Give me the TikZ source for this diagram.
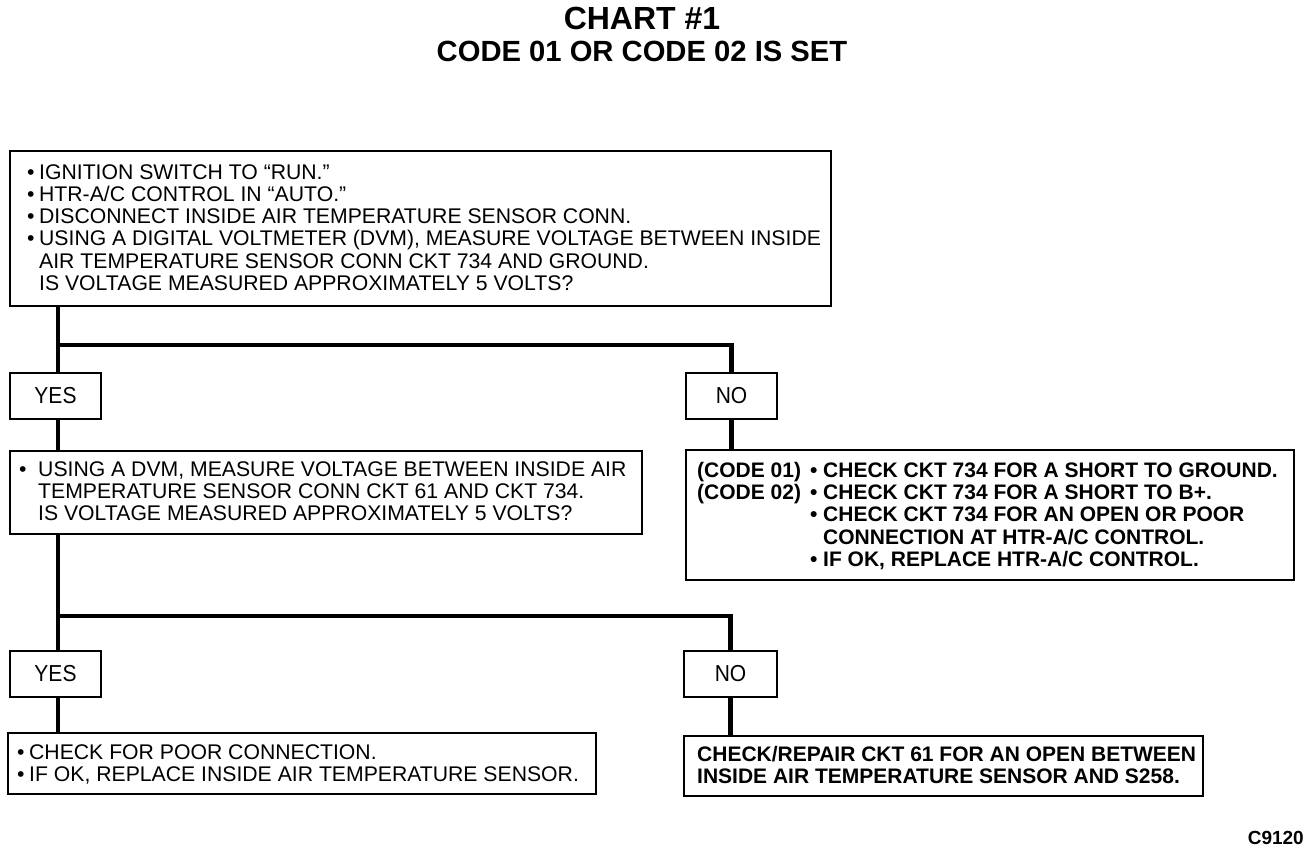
\documentclass[tikz,border=0pt]{standalone}
\usepackage{fontspec}
\setmainfont{Liberation Sans}
\newcommand\bodyfont{\fontsize{21.2}{22.2}\selectfont}
\newcommand\boldbody{\fontsize{21}{22.2}\selectfont\bfseries}
\newcommand\bul[1]{\makebox[#1][l]{•}}
\begin{document}
\begin{tikzpicture}[x=1pt,y=-1pt,
  box/.style={draw,line width=2pt,inner sep=0pt,anchor=north west},
  ans/.style={box,minimum height=46pt,font=\fontsize{21}{22}\selectfont},
  txt/.style={anchor=west,align=left,inner sep=0pt,font=\bodyfont},
  btxt/.style={anchor=west,align=left,inner sep=0pt,font=\boldbody},
  wire/.style={line width=4.5pt}]
\useasboundingbox[fill=white] (0,0) rectangle (1312,850);

% titles
\node[anchor=base,font=\fontsize{32}{34}\selectfont\bfseries,inner sep=0pt] (title) at (642,30) {CHART \#1};
\node[anchor=base,font=\fontsize{29.2}{31}\selectfont\bfseries,inner sep=0pt] (subtitle) at (642,62) {CODE 01 OR CODE 02 IS SET};

% boxes
\node[box,minimum width=821pt,minimum height=155pt] (b1) at (9,150) {};
\node[txt] (t1) at ([xshift=18pt,yshift=1pt]b1.west) {\bul{12pt}IGNITION SWITCH TO “RUN.”\\
\bul{12pt}HTR-A/C CONTROL IN “AUTO.”\\
\bul{12pt}DISCONNECT INSIDE AIR TEMPERATURE SENSOR CONN.\\
\bul{12pt}USING A DIGITAL VOLTMETER (DVM), MEASURE VOLTAGE BETWEEN INSIDE\\
\hspace*{12pt}AIR TEMPERATURE SENSOR CONN CKT 734 AND GROUND.\\
\hspace*{12pt}IS VOLTAGE MEASURED APPROXIMATELY 5 VOLTS?};

\node[ans,minimum width=91pt] (yes1) at (9,372) {\scalebox{1}[1.1]{YES}};
\node[ans,minimum width=91pt] (no1) at (685,372) {\scalebox{1}[1.1]{NO}};

\node[box,minimum width=632pt,minimum height=83pt] (b2) at (9,450) {};
\node[txt] (t2) at ([xshift=10pt,yshift=1pt]b2.west) {\bul{19pt}USING A DVM, MEASURE VOLTAGE BETWEEN INSIDE AIR\\
\hspace*{19pt}TEMPERATURE SENSOR CONN CKT 61 AND CKT 734.\\
\hspace*{19pt}IS VOLTAGE MEASURED APPROXIMATELY 5 VOLTS?};

\node[box,minimum width=608pt,minimum height=130pt] (b3) at (685,449) {};
\node[btxt] (t3) at ([xshift=12pt,yshift=-1pt]b3.west) {\makebox[113pt][l]{(CODE 01)}\bul{13pt}CHECK CKT 734 FOR A SHORT TO GROUND.\\
\makebox[113pt][l]{(CODE 02)}\bul{13pt}CHECK CKT 734 FOR A SHORT TO B+.\\
\hspace*{113pt}\bul{13pt}CHECK CKT 734 FOR AN OPEN OR POOR\\
\hspace*{126pt}CONNECTION AT HTR-A/C CONTROL.\\
\hspace*{113pt}\bul{13pt}IF OK, REPLACE HTR-A/C CONTROL.};

\node[ans,minimum width=91pt] (yes2) at (9,650) {\scalebox{1}[1.1]{YES}};
\node[ans,minimum width=93pt] (no2) at (683,650) {\scalebox{1}[1.1]{NO}};

\node[box,minimum width=588pt,minimum height=61pt] (b4) at (7,732) {};
\node[txt] (t4) at ([xshift=10pt,yshift=-1pt]b4.west) {\bul{12pt}CHECK FOR POOR CONNECTION.\\
\bul{12pt}IF OK, REPLACE INSIDE AIR TEMPERATURE SENSOR.};

\node[box,minimum width=519pt,minimum height=60pt] (b5) at (683,735) {};
\node[btxt] (t5) at ([xshift=14pt,yshift=1pt]b5.west) {CHECK/REPAIR CKT 61 FOR AN OPEN BETWEEN\\
INSIDE AIR TEMPERATURE SENSOR AND S258.};

\node[anchor=base east,font=\fontsize{19}{21}\selectfont\bfseries,inner sep=0pt] (code) at (1304,844) {C9120};

% connectors
\coordinate (j1) at ([xshift=2.5pt]yes1.north |- 0,345);
\draw[wire] ([xshift=2.5pt]yes1.north |- b1.south) -- ([xshift=2.5pt]yes1.north);
\draw[wire] (j1) -| (no1.north);
\draw[wire] ([xshift=2.5pt]yes1.south) -- ([xshift=2.5pt]yes1.south |- b2.north);
\draw[wire] (no1.south) -- (no1.south |- b3.north);

\coordinate (j2) at ([xshift=2.5pt]yes2.north |- 0,616);
\draw[wire] ([xshift=2.5pt]yes2.north |- b2.south) -- ([xshift=2.5pt]yes2.north);
\draw[wire] (j2) -| (no2.north);
\draw[wire] ([xshift=2.5pt]yes2.south) -- ([xshift=2.5pt]yes2.south |- b4.north);
\draw[wire] (no2.south) -- (no2.south |- b5.north);
\end{tikzpicture}
\end{document}
